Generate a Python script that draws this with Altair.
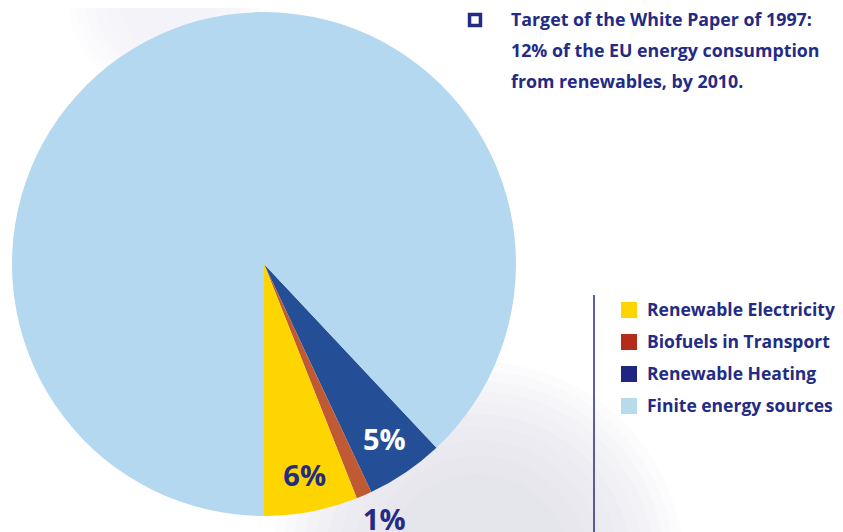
import math
import altair as alt
import pandas as pd

# ---- data ----
categories = ["Renewable Heating", "Biofuels in Transport", "Renewable Electricity", "Finite energy sources"]
values = [5, 1, 6, 88]
labels = ["5%", "1%", "6%", ""]
pie_colors = ["#244f97", "#bf5a35", "#ffd500", "#b5d8f1"]

legend_items = ["Renewable Electricity", "Biofuels in Transport", "Renewable Heating", "Finite energy sources"]
legend_colors = ["#ffd500", "#b52b1a", "#1e2583", "#b8dbec"]

title_lines = ["Target of the White Paper of 1997:",
               "12% of the EU energy consumption",
               "from renewables, by 2010."]

NAVY = "#232b84"
FONT = "Open Sans"

pie_df = pd.DataFrame({
    "category": categories,
    "value": values,
    "label": labels,
    "order": list(range(len(categories))),
    "r": [214, 280, 217, 0],
    "dx": [0, 9, 0, 0],
})

start = math.radians(136.8)
theta_scale = alt.Scale(domain=[0, 100], range=[start, start + 2 * math.pi])

CX, CY, R = 256, 256, 252

base = alt.Chart(pie_df)

arcs = base.mark_arc(outerRadius=R, stroke=None).encode(
    theta=alt.Theta("value:Q", stack=True, scale=theta_scale),
    order=alt.Order("order:Q"),
    color=alt.Color("category:N", scale=alt.Scale(domain=categories, range=pie_colors), legend=None),
    x=alt.value(CX),
    y=alt.value(CY),
)

pie_text_base = base.transform_window(
    cum="sum(value)", sort=[alt.SortField("order")]
).transform_calculate(
    mid="datum.cum - datum.value / 2"
)

def label_layer(cat, color, dx=0):
    return pie_text_base.transform_filter(alt.datum.category == cat).mark_text(
        font=FONT, fontWeight="bold", fontSize=29, align="center", baseline="middle",
        color=color, dx=dx
    ).encode(
        theta=alt.Theta("mid:Q", stack=None, scale=theta_scale),
        radius=alt.Radius("r:Q", scale=None),
        text="label:N",
        x=alt.value(CX),
        y=alt.value(CY),
    )

pie_text = alt.layer(
    label_layer("Renewable Heating", "white"),
    label_layer("Renewable Electricity", NAVY),
    label_layer("Biofuels in Transport", NAVY, dx=9),
)

# background soft shading (decoration)
bg_df = pd.DataFrame({"k": [0]})
bg_layers = []
for i in range(10):
    sz = 170000 - i * 15000
    bg_layers.append(alt.Chart(bg_df).mark_circle(color="#c4c4e2", opacity=0.06, size=sz).encode(
        x=alt.value(470), y=alt.value(560)))
for i in range(6):
    sz = 40000 - i * 6000
    bg_layers.append(alt.Chart(bg_df).mark_circle(color="#d0d0e0", opacity=0.04, size=sz).encode(
        x=alt.value(160), y=alt.value(-10)))
bg = alt.layer(*bg_layers)

# legend
leg_df = pd.DataFrame({"item": legend_items})
leg_y = alt.Y("item:N", scale=alt.Scale(type="point", padding=0, domain=legend_items, range=[302, 398]), axis=None)
leg_sq = alt.Chart(leg_df).mark_square(size=256, opacity=1).encode(
    x=alt.value(621),
    y=leg_y,
    color=alt.Color("item:N", scale=alt.Scale(domain=legend_items, range=legend_colors), legend=None),
)
leg_txt = alt.Chart(leg_df).mark_text(font=FONT, fontWeight="bold", fontSize=17.5, color=NAVY,
                                      align="left", baseline="middle", dy=1).encode(
    x=alt.value(639),
    y=leg_y,
    text="item:N",
)
leg_rule = alt.Chart(bg_df).mark_rule(color=NAVY, strokeWidth=1.5).encode(
    x=alt.value(586), y=alt.value(287), y2=alt.value(524))

# title block
title_sq = alt.Chart(bg_df).mark_square(size=120, filled=False, color=NAVY, strokeWidth=3.5,
                                        opacity=1).encode(
    x=alt.value(467), y=alt.value(12))
title_txt = alt.Chart(bg_df).mark_text(text=title_lines, font=FONT, fontWeight="bold", fontSize=17.8,
                                       color=NAVY, align="left", baseline="alphabetic",
                                       lineHeight=31).encode(
    x=alt.value(503), y=alt.value(18))

chart = alt.layer(bg, arcs, pie_text, leg_rule, leg_sq, leg_txt, title_sq, title_txt).resolve_scale(
    color="independent"
).properties(
    width=827, height=524, autosize=alt.AutoSizeParams(type="none"), padding=0
).configure_view(stroke=None)

chart.save("out.html", embed_options={"renderer": "svg", "actions": False})
